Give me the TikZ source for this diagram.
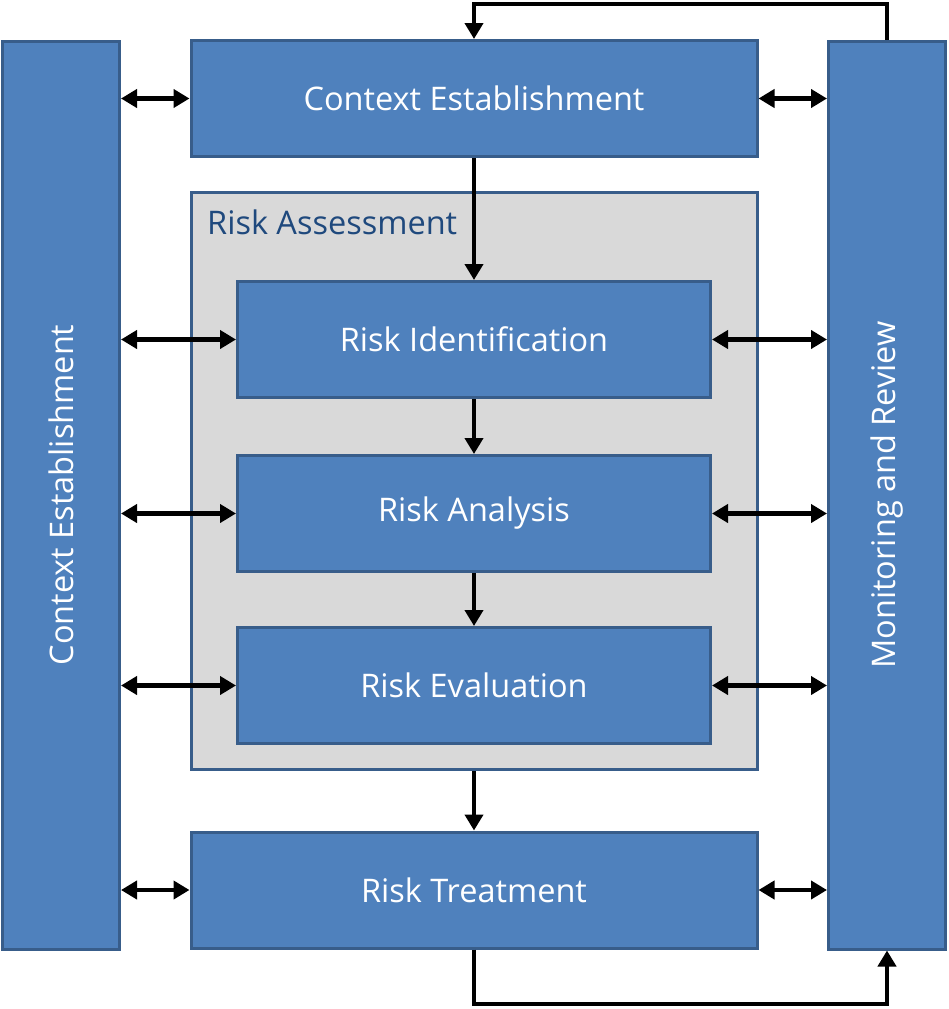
\documentclass[tikz,border=0pt]{standalone}
\usepackage{fontspec}
\setmainfont{Open Sans}
\usetikzlibrary{arrows.meta}
\definecolor{boxfill}{HTML}{4F81BD}
\definecolor{boxline}{HTML}{385D8A}
\definecolor{grayfill}{HTML}{D9D9D9}
\definecolor{labelblue}{HTML}{1F497D}
\tikzset{
  bluebox/.style={draw=boxline, line width=3pt, fill=boxfill, text=white, inner sep=0pt, font=\fontsize{32.5}{38}\selectfont},
  grouparea/.style={draw=boxline, line width=3pt, fill=grayfill, inner sep=0pt},
  link/.style={line width=4.6pt, -{Triangle[width=18pt,length=16pt]}},
  dlink/.style={line width=4.6pt, {Triangle[width=18pt,length=16pt]}-{Triangle[width=18pt,length=16pt]}},
}
\begin{document}
\begin{tikzpicture}[x=1pt,y=-1pt]
\useasboundingbox (0,0) rectangle (949,1009);
% side boxes
\node[bluebox, minimum width=117pt, minimum height=908pt] (left) at (61,495) {};
\node[rotate=90, text=white, font=\fontsize{32.5}{38}\selectfont] (lefttext) at (left.center) {Context Establishment};
\node[bluebox, minimum width=117pt, minimum height=908pt] (right) at (887,495) {};
\node[rotate=90, text=white, font=\fontsize{32.5}{38}\selectfont] (righttext) at (right.center) {Monitoring and Review};
% group
\node[grouparea, minimum width=566pt, minimum height=577pt] (ra) at (474,481) {};
\node[anchor=north west, text=labelblue, inner sep=0pt, font=\fontsize{32.5}{38}\selectfont] (ralabel) at (207,210) {Risk Assessment};
% main boxes
\node[bluebox, minimum width=566pt, minimum height=116pt] (ce) at (474,98.5) {Context Establishment};
\node[bluebox, minimum width=473pt, minimum height=116pt] (ri) at (474,339.5) {Risk Identification};
\node[bluebox, minimum width=473pt, minimum height=116pt] (ran) at (474,513.5) {Risk Analysis};
\node[bluebox, minimum width=473pt, minimum height=116pt] (rev) at (474,685.5) {Risk Evaluation};
\node[bluebox, minimum width=566pt, minimum height=116pt] (rt) at (474,890) {Risk Treatment};
% vertical flow
\draw[link] (ce.south) -- (ri.north);
\draw[link] (ri.south) -- (ran.north);
\draw[link] (ran.south) -- (rev.north);
\draw[link] (ra.south) -- (rt.north);
% double arrows left
\draw[dlink] (left.east |- ce.west) -- (ce.west);
\draw[dlink] (left.east |- ri.west) -- (ri.west);
\draw[dlink] (left.east |- ran.west) -- (ran.west);
\draw[dlink] (left.east |- rev.west) -- (rev.west);
\draw[dlink] (left.east |- rt.west) -- (rt.west);
% double arrows right
\draw[dlink] (ce.east) -- (right.west |- ce.east);
\draw[dlink] (ri.east) -- (right.west |- ri.east);
\draw[dlink] (ran.east) -- (right.west |- ran.east);
\draw[dlink] (rev.east) -- (right.west |- rev.east);
\draw[dlink] (rt.east) -- (right.west |- rt.east);
% feedback loops
\coordinate (topy) at (0,4);
\coordinate (boty) at (0,1004);
\draw[link] (right.north) -- (right.north |- topy) -- (ce.north |- topy) -- (ce.north);
\draw[link] (rt.south) -- (rt.south |- boty) -- (right.south |- boty) -- (right.south);
\end{tikzpicture}
\end{document}
